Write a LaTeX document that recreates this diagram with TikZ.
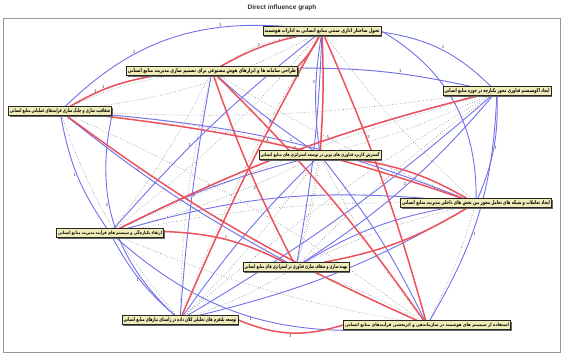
\documentclass[tikz,border=0pt]{standalone}
\usepackage{fontspec}
\usepackage{graphicx}
\usetikzlibrary{shadows,backgrounds}
\TeXXeTstate=1
\newfontfamily\fa[Script=Arabic]{DejaVu Sans}
\newfontfamily\ttl{Liberation Sans}
\definecolor{boxfill}{RGB}{240,237,184}
\definecolor{eblue}{RGB}{112,112,236}
\definecolor{ered}{RGB}{236,82,92}
\definecolor{egray}{RGB}{125,125,125}
\newcommand\lbl[2]{\resizebox*{#1}{5.4pt}{\fa\bfseries #2}}
\tikzset{
  box/.style={draw=black!85, line width=0.9pt, fill=boxfill, inner xsep=1.5pt, inner ysep=1.6pt,
    drop shadow={shadow xshift=1.3pt, shadow yshift=-1.3pt, fill=black!60, opacity=1}},
  bl/.style={draw=eblue, line width=0.9pt},
  rd/.style={draw=ered, line width=1.5pt},
  dt/.style={draw=egray, line width=0.6pt, dotted},
  num/.style={font=\fontsize{4.5}{5}\selectfont\sffamily, text=black!80, inner sep=0.5pt}
}
\begin{document}
\begin{tikzpicture}[x=1pt,y=-1pt]
\useasboundingbox (0,0) rectangle (563,354);
\node[font=\ttl\fontsize{6.5}{7}\selectfont\bfseries, text=black!80] (title) at (282,8) {Direct influence graph};
\node[box] (A) at (322,31) {\lbl{115pt}{\beginR تحول ساختار اداری سنتی منابع انسانی به ادارات هوشمند\endR}};
\node[box] (B) at (212,71) {\lbl{168pt}{\beginR طراحی سامانه ها و ابزارهای هوش مصنوعی برای تصمیم سازی مدیریت منابع انسانی\endR}};
\node[box] (C) at (60,111) {\lbl{100pt}{\beginR شفافیت سازی و چابک سازی فرایندهای عملیاتی منابع انسانی\endR}};
\node[box] (D) at (497,91) {\lbl{105pt}{\beginR ایجاد اکوسیستم فناوری محور یکپارچه در حوزه منابع انسانی\endR}};
\node[box] (E) at (320,155) {\lbl{119pt}{\beginR گسترش کاربرد فناوری های نوین در توسعه استراتژی های منابع انسانی\endR}};
\node[box] (F) at (476,203) {\lbl{148pt}{\beginR ایجاد تعاملات و شبکه های تعامل محور بین بخش های داخلی مدیریت منابع انسانی\endR}};
\node[box] (G) at (110,233) {\lbl{104pt}{\beginR ارتقاء یکپارچگی و سیستم های فرآیند مدیریت منابع انسانی\endR}};
\node[box] (H) at (296,267) {\lbl{103pt}{\beginR بهینه سازی و شفاف سازی فناوری در استراتژی های منابع انسانی\endR}};
\node[box] (I) at (180,320) {\lbl{113pt}{\beginR توسعه پلتفرم های تحلیلی کلان داده در راستای نیازهای منابع انسانی\endR}};
\node[box] (J) at (427,325) {\lbl{164pt}{\beginR استفاده از سیستم های هوشمند در سازماندهی و اثربخشی فرآیندهای منابع انسانی\endR}};
\begin{scope}[on background layer]
\draw[egray!80, line width=1pt] (3,18) rectangle (560,352);
% dotted
\foreach \a/\b/\c in {A/C/10,A/G/5,A/I/-5,B/F/-5,B/G/5,C/D/-5,C/E/5,C/H/-5,D/E/5,D/H/-5,E/H/5,F/H/-5,F/J/5,G/E/-5,H/J/5,I/D/5,A/B/-10,B/C/-8,I/E/-5,G/F/5,A/H/8,B/I/-6,D/G/-4,C/J/6,E/J/-6,A/F/-5,B/D/6,C/I/-10,G/J/-6,H/I/6}
  \draw[dt] (\a) to[bend left=\c] (\b);
% blue
\draw[bl] (C) to[bend left=24] node[num,pos=0.35,above]{2} node[num,pos=0.75,above]{1} (A);
\draw[bl] (C) to[bend left=10] node[num,pos=0.3,above]{1} (B);
\draw[bl] (C.south east) to[bend right=30] node[num,pos=0.4,left]{2} (I);
\draw[bl] (C) to[bend right=12] node[num,pos=0.5,left]{1} (G);
\draw[bl] (C) to[bend left=8] node[num,pos=0.5,above]{1} (F);
\draw[bl] (C) to[bend right=5] (H);
\draw[bl] (A) to[bend left=18] node[num,pos=0.5,above right]{1} (D);
\draw[bl] (A.east) to[bend left=30] (F);
\draw[bl] (A) to[bend right=5] node[num,pos=0.6,left]{1} (G);
\draw[bl] (A) to[bend left=4] (H);
\draw[bl] (B) to[bend left=6] node[num,pos=0.6,above]{1} (D);
\draw[bl] (B) to[bend right=4] (E);
\draw[bl] (B) to[bend right=3] node[num,pos=0.5,right]{2} (I);
\draw[bl] (D) to[bend left=12] node[num,pos=0.5,right]{1} (F);
\draw[bl] (D) to[bend right=6] node[num,pos=0.4,above]{1} (G);
\draw[bl] (D) to[bend left=5] (I);
\draw[bl] (D) to[bend left=14] node[num,pos=0.6,right]{1} (J);
\draw[bl] (E) to[bend right=6] node[num,pos=0.5,above]{1} (G);
\draw[bl] (E) to[bend left=6] (J);
\draw[bl] (F) to[bend right=10] node[num,pos=0.55,above]{1} (G);
\draw[bl] (F) to[bend left=8] (I);
\draw[bl] (G) to[bend right=10] node[num,pos=0.5,left]{1} (I);
\draw[bl] (G) to[bend right=22] node[num,pos=0.55,below]{1} (J);
\draw[bl] (H) to[bend right=8] node[num,pos=0.5,above]{2} (D);
\draw[bl] (E) to[bend right=5] (I);
\draw[bl] (A) to[bend right=8] node[num,pos=0.4,left]{2} (E);
\draw[bl] (H) to[bend left=10] (F);
% red
\draw[rd] (B) to[bend left=8] node[num,pos=0.5,above]{1} (A);
\draw[rd] (B.north east) to[bend right=8] (A);
\draw[rd] (C) to[bend left=10] node[num,pos=0.4,above]{1} (B);
\draw[rd] (C) to[bend left=6] node[num,pos=0.45,above]{1} (F);
\draw[rd] (C) to[bend right=6] node[num,pos=0.2,below]{1} (J);
\draw[rd] (A) to[bend right=3] node[num,pos=0.3,left]{3} (I);
\draw[rd] (A) to[bend left=4] node[num,pos=0.35,right]{2} (J);
\draw[rd] (B) to[bend left=5] (J);
\draw[rd] (B) to[bend right=4] node[num,pos=0.6,left]{2} (H);
\draw[rd] (G) to[bend left=6] node[num,pos=0.5,above]{2} (D);
\draw[rd] (I.east) to[bend right=20] node[num,pos=0.5,below]{3} (J.west);
\draw[rd] (G) to[bend left=12] node[num,pos=0.5,above]{1} (H);
\draw[rd] (E) to[bend left=10] (F);
\draw[rd] (A) to[bend left=3] (E);
\draw[rd] (H) to[bend right=10] (F);
\end{scope}
\end{tikzpicture}
\end{document}
